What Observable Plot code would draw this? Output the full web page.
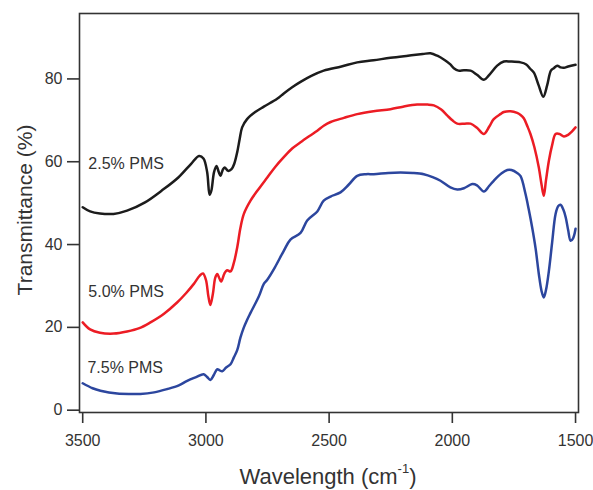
<!DOCTYPE html>
<html>
<head>
<meta charset="utf-8">
<script src="https://cdn.jsdelivr.net/npm/d3@7"></script>
<script src="https://cdn.jsdelivr.net/npm/@observablehq/plot@0.6"></script>
<style>
  html, body { margin: 0; padding: 0; background: #fff; }
  #chart { width: 593px; height: 490px; }
  svg { font-family: "Liberation Sans", Arial, Helvetica, sans-serif; }
</style>
</head>
<body>
<div id="chart"></div>
<script>
// Series labels and colours
const seriesNames = ["2.5% PMS", "5.0% PMS", "7.5% PMS"];
const seriesColors = ["#1c1c1c", "#ec1c24", "#2c469e"];

// 2.5% PMS (black)
const wn25 = [3500,3470,3430,3375,3320,3247,3180,3112,3060,3028,3010,2995,2985,2978,2967,2957,2948,2941,2932,2924,2910,2896,2885,2873,2863,2853,2833,2800,2765,2711,2684,2650,2616,2570,2522,2450,2386,2320,2251,2180,2120,2089,2061,2030,2008,1994,1975,1953,1926,1900,1872,1850,1818,1791,1764,1723,1700,1683,1669,1650,1631,1615,1600,1588,1574,1561,1547,1530,1500];
const t25  = [49.0,48.0,47.5,47.4,48.2,50.2,53.0,56.2,59.5,61.4,60.8,57.5,52.0,53.0,57.5,59.0,57.5,56.6,58.0,58.6,57.8,58.2,59.5,62.3,65.5,68.3,70.3,72.0,73.3,75.2,76.5,78.0,79.3,80.8,82.0,83.0,84.0,84.5,85.1,85.6,86.0,86.2,85.6,84.5,83.5,82.6,82.0,82.1,82.0,81.0,79.8,81.0,83.2,84.2,84.2,84.0,83.5,82.4,81.5,78.5,75.7,78.5,82.0,82.6,83.2,82.8,82.7,83.0,83.4];

// 5.0% PMS (red)
const wn50 = [3500,3470,3430,3374,3320,3270,3225,3170,3117,3080,3049,3025,3012,3000,2990,2982,2972,2962,2954,2945,2938,2925,2914,2900,2887,2873,2860,2846,2819,2785,2751,2718,2684,2650,2616,2580,2548,2522,2494,2440,2386,2320,2251,2200,2143,2100,2075,2045,2021,2000,1980,1950,1926,1900,1872,1850,1832,1805,1791,1764,1737,1723,1710,1695,1683,1667,1649,1638,1629,1620,1608,1595,1581,1565,1547,1530,1515,1500];
const t50  = [21.2,19.5,18.7,18.5,19.0,19.8,21.2,23.3,26.0,28.3,30.5,32.5,33.0,31.5,27.5,25.4,28.0,32.0,32.9,31.8,31.1,33.0,33.8,33.5,35.5,39.3,44.0,47.4,50.6,53.5,56.2,58.8,61.1,63.2,64.7,66.2,67.5,68.7,69.6,70.6,71.5,72.2,72.7,73.3,73.8,73.8,73.6,72.6,71.2,70.0,69.2,69.2,69.2,68.2,66.7,68.5,70.3,71.5,72.0,72.2,71.8,71.3,70.5,68.5,66.7,63.5,58.6,54.5,51.8,55.5,60.3,64.0,66.7,66.7,66.1,66.5,67.3,68.3];

// 7.5% PMS (blue)
const wn75 = [3500,3460,3428,3360,3300,3266,3210,3157,3110,3076,3040,3009,2995,2982,2968,2954,2944,2934,2918,2900,2887,2873,2860,2846,2833,2819,2785,2765,2751,2720,2684,2657,2616,2589,2548,2522,2494,2454,2420,2386,2350,2319,2260,2210,2160,2116,2080,2048,2008,1980,1953,1919,1900,1872,1850,1832,1800,1777,1760,1737,1723,1703,1690,1676,1662,1649,1638,1629,1620,1608,1595,1581,1570,1561,1550,1540,1530,1520,1510,1500];
const t75  = [6.5,5.3,4.7,4.0,3.9,3.9,4.3,5.1,6.0,7.1,8.0,8.7,8.0,7.3,8.5,9.9,9.6,9.4,10.3,11.1,12.7,14.5,17.5,20.0,21.8,23.5,27.5,30.5,31.5,34.5,38.5,41.2,42.8,45.8,48.0,50.6,51.6,52.6,54.5,56.6,57.0,57.0,57.3,57.4,57.3,57.0,56.3,55.4,53.8,53.3,53.6,54.6,54.3,52.8,54.2,55.4,57.2,58.0,58.0,57.3,56.5,52.2,48.5,44.1,39.0,32.9,28.8,27.2,29.0,33.7,40.5,47.4,49.3,49.6,48.5,46.6,43.5,40.9,41.5,43.8];

// Curve label positions (data units)
const labelWn = [3477, 3477, 3481];
const labelT  = [59.6, 28.5, 10.1];

// Axis ticks
const xTicks = [3500, 3000, 2500, 2000, 1500];
const yTicks = [0, 20, 40, 60, 80];

const toRows = (wn, t, s) => wn.map((w, i) => ({wn: w, t: t[i], s}));
const rows = [
  ...toRows(wn25, t25, seriesNames[0]),
  ...toRows(wn50, t50, seriesNames[1]),
  ...toRows(wn75, t75, seriesNames[2])
];
const labels = seriesNames.map((n, i) => ({wn: labelWn[i], t: labelT[i], text: n}));

const plot = Plot.plot({
  width: 593,
  height: 490,
  marginLeft: 79,
  marginRight: 15,
  marginTop: 13,
  marginBottom: 78,
  style: {fontFamily: "'Liberation Sans', Arial, sans-serif", background: "#fff"},
  x: {domain: [3513, 1488]},
  y: {domain: [-0.56, 95.8]},
  color: {domain: seriesNames, range: seriesColors},
  marks: [
    Plot.line(rows, {x: "wn", y: "t", z: "s", stroke: "s", strokeWidth: 2.5, curve: "catmull-rom"}),
    Plot.text(labels, {x: "wn", y: "t", text: "text", textAnchor: "start", fontSize: 16, fill: "#333"}),
    Plot.frame({stroke: "#333", strokeWidth: 1.6}),
    Plot.axisY({ticks: yTicks, tickFormat: "d", tickSize: 12, tickPadding: 5, fontSize: 16, label: null, stroke: "#333", strokeWidth: 1.6, color: "#333"}),
    Plot.axisX({ticks: xTicks, tickFormat: "d", tickSize: 11, tickPadding: 11, fontSize: 16, label: null, stroke: "#333", strokeWidth: 1.6, color: "#333"})
  ]
});
document.getElementById("chart").appendChild(plot);

const svg = d3.select(plot);
svg.append("text")
  .attr("transform", "translate(32,210) rotate(-90)")
  .attr("text-anchor", "middle")
  .attr("font-size", 21)
  .attr("fill", "#333")
  .text("Transmittance (%)");

const xt = svg.append("text")
  .attr("x", 328)
  .attr("y", 484)
  .attr("text-anchor", "middle")
  .attr("font-size", 22)
  .attr("fill", "#333");
xt.append("tspan").text("Wavelength (cm");
xt.append("tspan").attr("font-size", 13).attr("dy", -11).text("-1");
xt.append("tspan").attr("dy", 11).text(")");
</script>
</body>
</html>
